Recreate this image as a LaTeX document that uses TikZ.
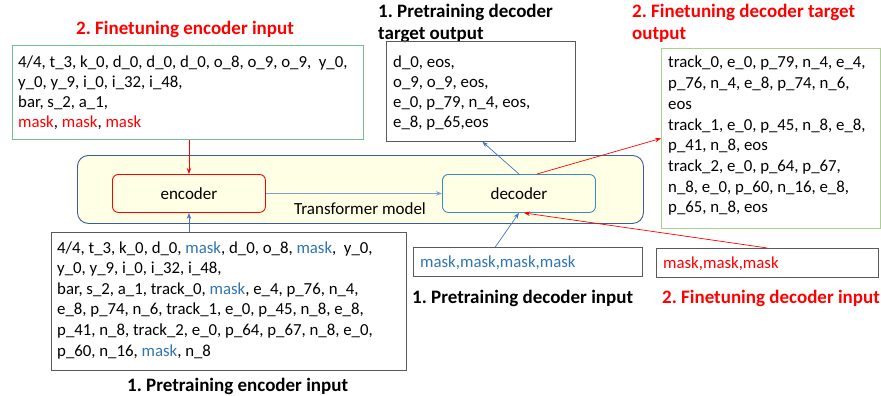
\documentclass[tikz,border=0pt]{standalone}
\usepackage{fontspec}
\setmainfont{Carlito}
\usetikzlibrary{arrows.meta,calc}
\frenchspacing

\definecolor{redc}{HTML}{FF0000}
\definecolor{maskblue}{HTML}{2E75B6}
\definecolor{arrowblue}{HTML}{4472C4}
\definecolor{linkblue}{HTML}{7F9FD3}
\definecolor{modelborder}{HTML}{3A5BA0}
\definecolor{decborder}{HTML}{3A8CC4}
\definecolor{modelfill}{HTML}{FFFFE5}
\definecolor{encgreen}{HTML}{6FC18D}
\definecolor{tgtgreen}{HTML}{A9D18E}
\definecolor{boxgray}{HTML}{5A5A5A}

\newcommand{\mk}[1]{\textcolor{#1}{mask}}
\newcommand{\tokens}[2]{\parbox[t]{360pt}{\fontsize{16.8}{#1}\selectfont\raggedright #2}}

\tikzset{
  seqbox/.style={draw=boxgray, line width=0.8pt, minimum width=#1, inner sep=0pt, anchor=north west},
  seqbox/.default=100pt,
  blocknode/.style={draw, line width=0.9pt, rounded corners=6pt, fill=modelfill,
    inner sep=0pt, anchor=north west, font=\fontsize{17}{20}\selectfont},
  tokentext/.style={inner sep=0pt, anchor=base west},
  caption/.style={inner sep=0pt, anchor=base west, font=\fontsize{19}{22}\selectfont\bfseries\frenchspacing, align=left},
  flow/.style={line width=0.7pt, -{Stealth[length=6pt,width=4.5pt]}},
}

\begin{document}
\begin{tikzpicture}[x=1pt,y=-1pt]
\useasboundingbox (0,0) rectangle (881,396);

% transformer model
\node[blocknode, draw=modelborder, rounded corners=11pt, minimum width=566pt, minimum height=68pt] (model) at (77,155) {};
\node[inner sep=0pt, font=\fontsize{17}{20}\selectfont] (modellabel) at (360,209) {Transformer model};
\node[blocknode, draw=redc, minimum width=153pt, minimum height=38pt] (encoder) at (112,174) {};
\node[font=\fontsize{17}{20}\selectfont] (enclabel) at (encoder.center) {encoder};
\node[blocknode, draw=decborder, minimum width=153pt, minimum height=38pt] (decoder) at (442,174) {};
\node[font=\fontsize{17}{20}\selectfont] (declabel) at (decoder.center) {decoder};

% finetuning encoder input
\node[caption, text=redc] (ftenccap) at (76,35) {2. Finetuning encoder input};
\node[seqbox, draw=encgreen, minimum width=351pt, minimum height=94pt] (ftencbox) at (12,45) {};
\node[tokentext] (ftenctxt) at (18,68) {\tokens{19.7}{%
4/4, t\_3, k\_0, d\_0, d\_0, d\_0, o\_8, o\_9, o\_9,\ \ y\_0,\\
y\_0, y\_9, i\_0, i\_32, i\_48,\\
bar, s\_2, a\_1,\\
\mk{redc}, \mk{redc}, \mk{redc}}};

% pretraining encoder input
\node[seqbox, minimum width=355pt, minimum height=138pt] (ptencbox) at (51,232) {};
\node[tokentext] (ptenctxt) at (57,253) {\tokens{20.6}{%
4/4, t\_3, k\_0, d\_0, \mk{maskblue}, d\_0, o\_8, \mk{maskblue},\ \ y\_0,\\
y\_0, y\_9, i\_0, i\_32, i\_48,\\
bar, s\_2, a\_1, track\_0, \mk{maskblue}, e\_4, p\_76, n\_4,\\
e\_8, p\_74, n\_6, track\_1, e\_0, p\_45, n\_8, e\_8,\\
p\_41, n\_8, track\_2, e\_0, p\_64, p\_67, n\_8, e\_0,\\
p\_60, n\_16, \mk{maskblue}, n\_8}};
\node[caption] (ptenccap) at (127,391) {1. Pretraining encoder input};

% pretraining decoder target output (base anchor sits on the last line)
\node[caption] (ptdeccap) at (378,40) {1. Pretraining decoder\\[0pt]target output};
\node[seqbox, minimum width=189pt, minimum height=100pt] (ptdecbox) at (386,41) {};
\node[tokentext] (ptdectxt) at (393,67) {\tokens{20.3}{%
d\_0, eos,\\
o\_9, o\_9, eos,\\
e\_0, p\_79, n\_4, eos,\\
e\_8, p\_65,eos}};

% finetuning decoder target output
\node[caption, text=redc] (ftdeccap) at (632,40) {2. Finetuning decoder target\\[0pt]output};
\node[seqbox, draw=tgtgreen, minimum width=219pt, minimum height=180pt] (ftdecbox) at (661,48) {};
\node[tokentext] (ftdectxt) at (668,68) {\tokens{20.7}{%
track\_0, e\_0, p\_79, n\_4, e\_4,\\
p\_76, n\_4, e\_8, p\_74, n\_6,\\
eos\\
track\_1, e\_0, p\_45, n\_8, e\_8,\\
p\_41, n\_8, eos\\
track\_2, e\_0, p\_64, p\_67,\\
n\_8, e\_0, p\_60, n\_16, e\_8,\\
p\_65, n\_8, eos}};

% decoder inputs
\node[seqbox, minimum width=229pt, minimum height=29pt] (ptdecin) at (413,247) {};
\node[tokentext, text=maskblue, font=\fontsize{16.8}{20}\selectfont] (ptdecintxt) at (420,267) {mask,mask,mask,mask};
\node[caption] (ptdecincap) at (412,303) {1. Pretraining decoder input};
\node[seqbox, minimum width=222pt, minimum height=29pt] (ftdecin) at (656,248) {};
\node[tokentext, text=redc, font=\fontsize{16.8}{20}\selectfont] (ftdecintxt) at (663,268) {mask,mask,mask};
\node[caption, text=redc] (ftdecincap) at (662,303) {2. Finetuning decoder input};

% connectors
\draw[flow, redc] (encoder.north |- ftencbox.south) -- (encoder.north);
\draw[flow, arrowblue] (encoder.south |- ptencbox.north) -- (encoder.south);
\draw[flow, linkblue] (encoder.east) -- (decoder.west);
\draw[flow, arrowblue] (decoder.north) -- ($(ptdecbox.south west)!0.508!(ptdecbox.south east)$);
\draw[flow, redc] ([xshift=18pt]decoder.north) -- (ftdecbox.west);
\draw[flow, arrowblue] ($(ptdecin.north west)!0.358!(ptdecin.north east)$) -- (decoder.south);
\draw[flow, redc] (ftdecin.north) -- ([xshift=5pt]decoder.south);
\end{tikzpicture}
\end{document}
